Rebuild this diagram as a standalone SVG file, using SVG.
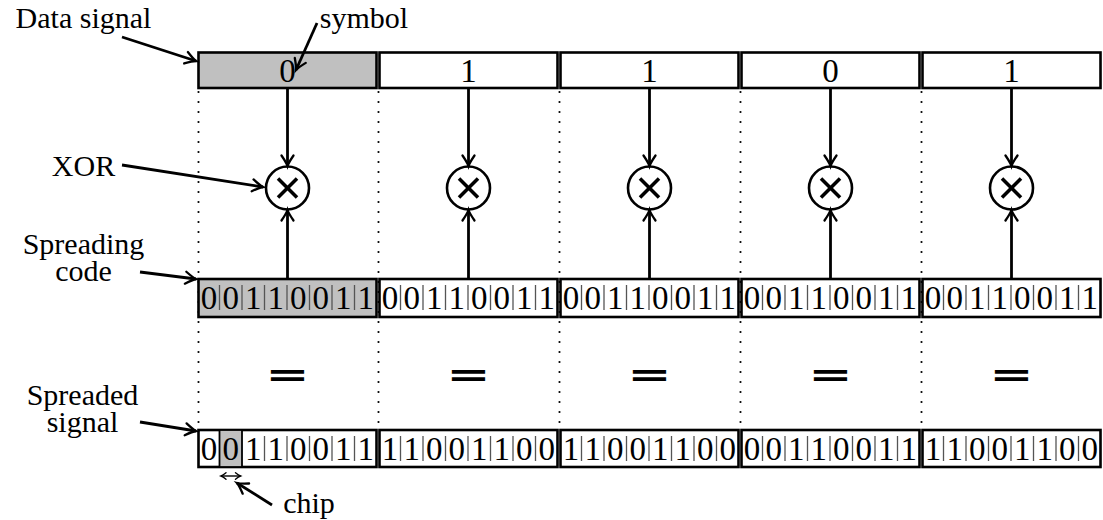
<svg xmlns="http://www.w3.org/2000/svg" width="1103" height="520" viewBox="0 0 1103 520">
  <style>
    .lbl { font-size: 30px; fill: #000; text-anchor: middle; }
    .dig { font-size: 33px; fill: #000; text-anchor: middle; }
    .box { fill: #fff; stroke: #000; stroke-width: 2.6; }
    .gray { fill: #c0c0c0; }
    .sep { stroke: #555; stroke-width: 1.3; }
    .dots { stroke: #000; stroke-width: 2.2; stroke-linecap: round; stroke-dasharray: 0 10; fill: none; }
    .arr { stroke: #000; stroke-width: 2.8; fill: none; marker-end: url(#tip); }
    .xor circle { fill: #fff; stroke: #000; stroke-width: 2.6; }
    .xor line { stroke: #000; stroke-width: 3.6; }
    .eq { font-family: "DejaVu Sans", sans-serif; font-weight: bold; font-size: 53px; fill: #000; text-anchor: middle; }
  </style>
  <defs>
    <marker id="tip" markerUnits="userSpaceOnUse" markerWidth="20" markerHeight="20" refX="0" refY="0" orient="auto" overflow="visible">
      <path d="M -10.5 -6 C -5.8 -2.8 -2.3 -0.7 0 0 C -2.3 0.7 -5.8 2.8 -10.5 6" fill="none" stroke="#000" stroke-width="2.3" stroke-linecap="round"/>
    </marker>
    <marker id="tipS" markerUnits="userSpaceOnUse" markerWidth="10" markerHeight="10" refX="0" refY="0" orient="auto-start-reverse" overflow="visible">
      <path d="M -5 -3.2 C -2.8 -1.4 -1.1 -0.4 0 0 C -1.1 0.4 -2.8 1.4 -5 3.2" fill="none" stroke="#000" stroke-width="1.4" stroke-linecap="round"/>
    </marker>
  </defs>

  <!-- column guides -->
  <g id="guides">
    <line class="dots" x1="198.5" y1="92" x2="198.5" y2="428"/>
    <line class="dots" x1="378.5" y1="92" x2="378.5" y2="428"/>
    <line class="dots" x1="559.5" y1="92" x2="559.5" y2="428"/>
    <line class="dots" x1="740.5" y1="92" x2="740.5" y2="428"/>
    <line class="dots" x1="921.5" y1="92" x2="921.5" y2="428"/>
  </g>

  <g font-family="Liberation Serif, DejaVu Serif, serif">
  <!-- data signal symbols -->
  <g id="data">
    <g id="data-0"><rect class="box gray" x="198.5" y="52.5" width="178" height="35.5"/><text class="dig" x="287.5" y="82">0</text></g>
    <g id="data-1"><rect class="box" x="379.5" y="52.5" width="178" height="35.5"/><text class="dig" x="468.5" y="82">1</text></g>
    <g id="data-2"><rect class="box" x="560.5" y="52.5" width="178" height="35.5"/><text class="dig" x="649.5" y="82">1</text></g>
    <g id="data-3"><rect class="box" x="741.5" y="52.5" width="178" height="35.5"/><text class="dig" x="830.5" y="82">0</text></g>
    <g id="data-4"><rect class="box" x="922.5" y="52.5" width="178" height="35.5"/><text class="dig" x="1011.5" y="82">1</text></g>
  </g>

  <!-- XOR operators -->
  <g id="xor">
    <g id="xor-0" class="xor"><circle cx="287.5" cy="188" r="21.5"/><line x1="278" y1="178.5" x2="297" y2="197.5"/><line x1="297" y1="178.5" x2="278" y2="197.5"/></g>
    <g id="xor-1" class="xor"><circle cx="468.5" cy="188" r="21.5"/><line x1="459" y1="178.5" x2="478" y2="197.5"/><line x1="478" y1="178.5" x2="459" y2="197.5"/></g>
    <g id="xor-2" class="xor"><circle cx="649.5" cy="188" r="21.5"/><line x1="640" y1="178.5" x2="659" y2="197.5"/><line x1="659" y1="178.5" x2="640" y2="197.5"/></g>
    <g id="xor-3" class="xor"><circle cx="830.5" cy="188" r="21.5"/><line x1="821" y1="178.5" x2="840" y2="197.5"/><line x1="840" y1="178.5" x2="821" y2="197.5"/></g>
    <g id="xor-4" class="xor"><circle cx="1011.5" cy="188" r="21.5"/><line x1="1002" y1="178.5" x2="1021" y2="197.5"/><line x1="1021" y1="178.5" x2="1002" y2="197.5"/></g>
  </g>

  <!-- spreading code, one block per symbol -->
  <g id="code">
    <g id="code-0">
      <rect class="box gray" x="198.5" y="279" width="178" height="38"/>
      <g class="sep"><line x1="219.5" y1="285" x2="219.5" y2="310"/><line x1="242" y1="285" x2="242" y2="310"/><line x1="264.5" y1="285" x2="264.5" y2="310"/><line x1="287" y1="285" x2="287" y2="310"/><line x1="309.5" y1="285" x2="309.5" y2="310"/><line x1="332" y1="285" x2="332" y2="310"/><line x1="354.5" y1="285" x2="354.5" y2="310"/></g>
      <text class="dig" y="309"><tspan x="209">0</tspan><tspan x="230.75">0</tspan><tspan x="253.25">1</tspan><tspan x="275.75">1</tspan><tspan x="298.25">0</tspan><tspan x="320.75">0</tspan><tspan x="343.25">1</tspan><tspan x="365.75">1</tspan></text>
    </g>
    <g id="code-1">
      <rect class="box" x="379.5" y="279" width="178" height="38"/>
      <g class="sep"><line x1="400.5" y1="285" x2="400.5" y2="310"/><line x1="423" y1="285" x2="423" y2="310"/><line x1="445.5" y1="285" x2="445.5" y2="310"/><line x1="468" y1="285" x2="468" y2="310"/><line x1="490.5" y1="285" x2="490.5" y2="310"/><line x1="513" y1="285" x2="513" y2="310"/><line x1="535.5" y1="285" x2="535.5" y2="310"/></g>
      <text class="dig" y="309"><tspan x="390">0</tspan><tspan x="411.75">0</tspan><tspan x="434.25">1</tspan><tspan x="456.75">1</tspan><tspan x="479.25">0</tspan><tspan x="501.75">0</tspan><tspan x="524.25">1</tspan><tspan x="546.75">1</tspan></text>
    </g>
    <g id="code-2">
      <rect class="box" x="560.5" y="279" width="178" height="38"/>
      <g class="sep"><line x1="581.5" y1="285" x2="581.5" y2="310"/><line x1="604" y1="285" x2="604" y2="310"/><line x1="626.5" y1="285" x2="626.5" y2="310"/><line x1="649" y1="285" x2="649" y2="310"/><line x1="671.5" y1="285" x2="671.5" y2="310"/><line x1="694" y1="285" x2="694" y2="310"/><line x1="716.5" y1="285" x2="716.5" y2="310"/></g>
      <text class="dig" y="309"><tspan x="571">0</tspan><tspan x="592.75">0</tspan><tspan x="615.25">1</tspan><tspan x="637.75">1</tspan><tspan x="660.25">0</tspan><tspan x="682.75">0</tspan><tspan x="705.25">1</tspan><tspan x="727.75">1</tspan></text>
    </g>
    <g id="code-3">
      <rect class="box" x="741.5" y="279" width="178" height="38"/>
      <g class="sep"><line x1="762.5" y1="285" x2="762.5" y2="310"/><line x1="785" y1="285" x2="785" y2="310"/><line x1="807.5" y1="285" x2="807.5" y2="310"/><line x1="830" y1="285" x2="830" y2="310"/><line x1="852.5" y1="285" x2="852.5" y2="310"/><line x1="875" y1="285" x2="875" y2="310"/><line x1="897.5" y1="285" x2="897.5" y2="310"/></g>
      <text class="dig" y="309"><tspan x="752">0</tspan><tspan x="773.75">0</tspan><tspan x="796.25">1</tspan><tspan x="818.75">1</tspan><tspan x="841.25">0</tspan><tspan x="863.75">0</tspan><tspan x="886.25">1</tspan><tspan x="908.75">1</tspan></text>
    </g>
    <g id="code-4">
      <rect class="box" x="922.5" y="279" width="178" height="38"/>
      <g class="sep"><line x1="943.5" y1="285" x2="943.5" y2="310"/><line x1="966" y1="285" x2="966" y2="310"/><line x1="988.5" y1="285" x2="988.5" y2="310"/><line x1="1011" y1="285" x2="1011" y2="310"/><line x1="1033.5" y1="285" x2="1033.5" y2="310"/><line x1="1056" y1="285" x2="1056" y2="310"/><line x1="1078.5" y1="285" x2="1078.5" y2="310"/></g>
      <text class="dig" y="309"><tspan x="933">0</tspan><tspan x="954.75">0</tspan><tspan x="977.25">1</tspan><tspan x="999.75">1</tspan><tspan x="1022.25">0</tspan><tspan x="1044.75">0</tspan><tspan x="1067.25">1</tspan><tspan x="1089.75">1</tspan></text>
    </g>
  </g>

  <!-- spreaded signal -->
  <g id="spread">
    <g id="spread-0">
      <rect class="box" x="198.5" y="430" width="178" height="37"/>
      <rect x="219.5" y="430" width="22.5" height="37" fill="#c0c0c0" stroke="#000" stroke-width="1.8"/>
      <g class="sep"><line x1="264.5" y1="436" x2="264.5" y2="461"/><line x1="287" y1="436" x2="287" y2="461"/><line x1="309.5" y1="436" x2="309.5" y2="461"/><line x1="332" y1="436" x2="332" y2="461"/><line x1="354.5" y1="436" x2="354.5" y2="461"/></g>
      <text class="dig" y="460"><tspan x="209">0</tspan><tspan x="230.75">0</tspan><tspan x="253.25">1</tspan><tspan x="275.75">1</tspan><tspan x="298.25">0</tspan><tspan x="320.75">0</tspan><tspan x="343.25">1</tspan><tspan x="365.75">1</tspan></text>
    </g>
    <g id="spread-1">
      <rect class="box" x="379.5" y="430" width="178" height="37"/>
      <g class="sep"><line x1="400.5" y1="436" x2="400.5" y2="461"/><line x1="423" y1="436" x2="423" y2="461"/><line x1="445.5" y1="436" x2="445.5" y2="461"/><line x1="468" y1="436" x2="468" y2="461"/><line x1="490.5" y1="436" x2="490.5" y2="461"/><line x1="513" y1="436" x2="513" y2="461"/><line x1="535.5" y1="436" x2="535.5" y2="461"/></g>
      <text class="dig" y="460"><tspan x="390">1</tspan><tspan x="411.75">1</tspan><tspan x="434.25">0</tspan><tspan x="456.75">0</tspan><tspan x="479.25">1</tspan><tspan x="501.75">1</tspan><tspan x="524.25">0</tspan><tspan x="546.75">0</tspan></text>
    </g>
    <g id="spread-2">
      <rect class="box" x="560.5" y="430" width="178" height="37"/>
      <g class="sep"><line x1="581.5" y1="436" x2="581.5" y2="461"/><line x1="604" y1="436" x2="604" y2="461"/><line x1="626.5" y1="436" x2="626.5" y2="461"/><line x1="649" y1="436" x2="649" y2="461"/><line x1="671.5" y1="436" x2="671.5" y2="461"/><line x1="694" y1="436" x2="694" y2="461"/><line x1="716.5" y1="436" x2="716.5" y2="461"/></g>
      <text class="dig" y="460"><tspan x="571">1</tspan><tspan x="592.75">1</tspan><tspan x="615.25">0</tspan><tspan x="637.75">0</tspan><tspan x="660.25">1</tspan><tspan x="682.75">1</tspan><tspan x="705.25">0</tspan><tspan x="727.75">0</tspan></text>
    </g>
    <g id="spread-3">
      <rect class="box" x="741.5" y="430" width="178" height="37"/>
      <g class="sep"><line x1="762.5" y1="436" x2="762.5" y2="461"/><line x1="785" y1="436" x2="785" y2="461"/><line x1="807.5" y1="436" x2="807.5" y2="461"/><line x1="830" y1="436" x2="830" y2="461"/><line x1="852.5" y1="436" x2="852.5" y2="461"/><line x1="875" y1="436" x2="875" y2="461"/><line x1="897.5" y1="436" x2="897.5" y2="461"/></g>
      <text class="dig" y="460"><tspan x="752">0</tspan><tspan x="773.75">0</tspan><tspan x="796.25">1</tspan><tspan x="818.75">1</tspan><tspan x="841.25">0</tspan><tspan x="863.75">0</tspan><tspan x="886.25">1</tspan><tspan x="908.75">1</tspan></text>
    </g>
    <g id="spread-4">
      <rect class="box" x="922.5" y="430" width="178" height="37"/>
      <g class="sep"><line x1="943.5" y1="436" x2="943.5" y2="461"/><line x1="966" y1="436" x2="966" y2="461"/><line x1="988.5" y1="436" x2="988.5" y2="461"/><line x1="1011" y1="436" x2="1011" y2="461"/><line x1="1033.5" y1="436" x2="1033.5" y2="461"/><line x1="1056" y1="436" x2="1056" y2="461"/><line x1="1078.5" y1="436" x2="1078.5" y2="461"/></g>
      <text class="dig" y="460"><tspan x="933">1</tspan><tspan x="954.75">1</tspan><tspan x="977.25">0</tspan><tspan x="999.75">0</tspan><tspan x="1022.25">1</tspan><tspan x="1044.75">1</tspan><tspan x="1067.25">0</tspan><tspan x="1089.75">0</tspan></text>
    </g>
  </g>

  <!-- annotations -->
  <g id="labels">
    <text class="lbl" x="83.5" y="28">Data signal</text>
    <text class="lbl" x="364" y="28">symbol</text>
    <text class="lbl" x="83.5" y="176">XOR</text>
    <text class="lbl"><tspan x="83.5" y="254">Spreading</tspan><tspan x="83.5" y="281">code</tspan></text>
    <text class="lbl"><tspan x="82.5" y="405">Spreaded</tspan><tspan x="82.5" y="432">signal</tspan></text>
    <text class="lbl" x="309" y="513">chip</text>
  </g>
  </g>

  <!-- equals signs -->
  <g id="equals">
    <text class="eq" transform="translate(287.5 386) scale(1 0.6)">=</text>
    <text class="eq" transform="translate(468.5 386) scale(1 0.6)">=</text>
    <text class="eq" transform="translate(649.5 386) scale(1 0.6)">=</text>
    <text class="eq" transform="translate(830.5 386) scale(1 0.6)">=</text>
    <text class="eq" transform="translate(1011.5 386) scale(1 0.6)">=</text>
  </g>

  <!-- connectors -->
  <g id="connectors">
    <line class="arr" x1="287.5" y1="89" x2="287.5" y2="166"/>
    <line class="arr" x1="468.5" y1="89" x2="468.5" y2="166"/>
    <line class="arr" x1="649.5" y1="89" x2="649.5" y2="166"/>
    <line class="arr" x1="830.5" y1="89" x2="830.5" y2="166"/>
    <line class="arr" x1="1011.5" y1="89" x2="1011.5" y2="166"/>
    <line class="arr" x1="287.5" y1="278" x2="287.5" y2="210"/>
    <line class="arr" x1="468.5" y1="278" x2="468.5" y2="210"/>
    <line class="arr" x1="649.5" y1="278" x2="649.5" y2="210"/>
    <line class="arr" x1="830.5" y1="278" x2="830.5" y2="210"/>
    <line class="arr" x1="1011.5" y1="278" x2="1011.5" y2="210"/>
    <!-- label pointers -->
    <line class="arr" x1="122" y1="37" x2="196" y2="61"/>
    <line class="arr" x1="317" y1="23" x2="296" y2="70"/>
    <line class="arr" x1="122" y1="165" x2="263" y2="187"/>
    <line class="arr" x1="140" y1="272" x2="196" y2="279"/>
    <line class="arr" x1="140" y1="422" x2="196" y2="431"/>
    <line class="arr" x1="272" y1="505" x2="237" y2="483"/>
    <!-- chip width -->
    <line x1="221" y1="476" x2="240.5" y2="476" stroke="#000" stroke-width="1.4" marker-start="url(#tipS)" marker-end="url(#tipS)"/>
  </g>
</svg>
